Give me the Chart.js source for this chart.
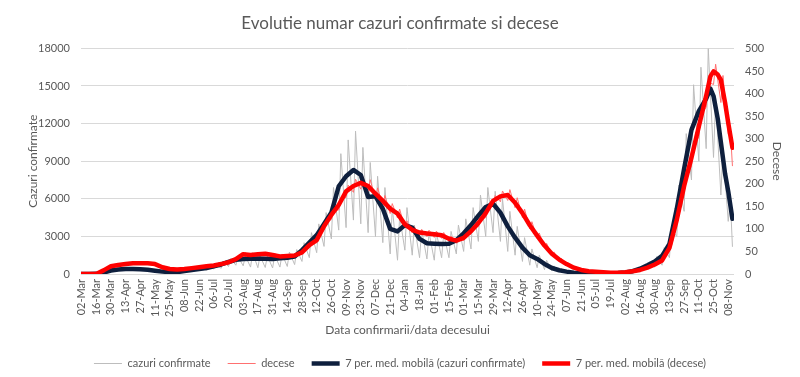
<!DOCTYPE html>
<html>
<head>
<meta charset="utf-8">
<script src="https://cdn.jsdelivr.net/npm/chart.js@4.4.1/dist/chart.umd.min.js"></script>
<style>
  html, body { margin: 0; padding: 0; background: #fff; }
  #wrap { width: 800px; height: 377px; }
</style>
</head>
<body>
<div id="wrap"><canvas id="chart"></canvas></div>
<script>
// day 0 = 02-Mar-2020, one unit = one day
const tickLabels = ['02-Mar','16-Mar','30-Mar','13-Apr','27-Apr','11-May','25-May','08-Jun','22-Jun','06-Jul','20-Jul',
  '03-Aug','17-Aug','31-Aug','14-Sep','28-Sep','12-Oct','26-Oct','09-Nov','23-Nov','07-Dec','21-Dec',
  '04-Jan','18-Jan','01-Feb','15-Feb','01-Mar','15-Mar','29-Mar','12-Apr','26-Apr','10-May','24-May',
  '07-Jun','21-Jun','05-Jul','19-Jul','02-Aug','16-Aug','30-Aug','13-Sep','27-Sep','11-Oct','25-Oct','08-Nov'];
const lastDay = 620;

// daily values, one low (start of week) and one high (mid week) per week
const rawCasesLow = [0,1,10,80,190,250,270,280,260,210,
  150,110,100,110,160,220,260,300,400,450,
  600,700,650,550,500,520,480,550,600,750,
  1000,1300,1700,2200,2800,3500,3700,4300,4000,3300,
  3000,2500,1600,1100,1900,1500,1300,1200,1100,1300,
  1300,1600,1800,2000,2600,3000,3300,2600,1800,1500,
  1000,700,500,350,250,150,90,60,40,30,
  20,20,30,50,80,130,250,400,550,700,
  1300,3000,5000,7500,9000,10000,9300,6300,4200];
const rawCasesHigh = [2,5,40,250,360,430,460,470,440,400,
  300,240,200,230,320,430,520,660,800,1000,
  1250,1400,1450,1700,1450,1450,1500,1600,1750,1950,
  2500,3300,4000,4900,6900,9600,10700,11400,10100,8900,
  7800,6900,5300,4600,5300,3900,3500,3300,3300,3200,
  3400,3900,4400,5300,6300,6900,6600,6000,5000,3800,
  2900,2000,1500,1100,650,420,260,150,100,70,
  60,60,80,120,190,320,580,950,1400,2100,
  3500,7100,11200,15100,16500,18000,14000,10000,6000];
const rawCasesEnd = 2200;

const rawDeathsLow = [0,0,0,6,15,18,20,22,22,22,
  20,13,10,9,10,12,14,15,17,20,
  24,30,40,39,41,42,39,36,37,38,
  44,59,69,98,121,142,170,181,188,181,
  165,150,134,124,102,91,85,83,81,79,
  72,68,74,88,105,125,150,160,163,147,
  125,100,79,58,42,29,20,12,8,5,
  4,3,2,2,3,5,8,12,19,27,
  53,110,180,240,305,370,420,380,310];
const rawDeathsHigh = [0,0,1,11,19,22,24,26,26,26,
  24,17,12,11,12,14,16,19,21,24,
  28,36,47,45,47,48,45,42,43,44,
  52,69,81,114,141,165,197,210,216,209,
  191,174,156,144,118,105,99,97,95,92,
  84,80,86,102,121,145,174,184,187,169,
  144,116,91,68,49,35,24,15,10,7,
  6,5,4,4,5,7,10,15,23,33,
  63,130,210,278,352,425,465,440,320];
const rawDeathsEnd = 240;

// 7-day moving averages, weekly up to day 595, then the tail days
const maTailDays = [599, 602, 606, 609, 613, 616, 620];
const maCases = [0,1,12,110,280,360,390,400,380,340,
  260,190,160,150,230,320,390,480,620,760,
  960,1130,1200,1220,1230,1220,1200,1250,1300,1400,
  1900,2500,3100,4000,4900,7000,7800,8300,7900,6150,
  6200,5200,3600,3400,3900,3700,2800,2450,2420,2400,
  2420,2700,3250,3900,4650,5350,5600,4900,3800,2900,
  2100,1500,1200,800,480,300,190,110,70,50,
  40,40,50,80,130,220,420,700,1000,1450,
  2400,5200,8400,11500,13000,14000,
  14800,14200,12400,10500,8000,6600,4400];
const maDeaths = [0,0,0,8,17,20,22,24,24,24,
  22,15,11,10,11,13,15,17,19,22,
  26,33,44,42,44,45,42,39,40,41,
  48,64,75,106,131,153,183,195,202,195,
  178,162,145,134,110,98,92,90,88,86,
  78,74,80,95,113,135,162,172,175,158,
  135,108,85,63,45,32,22,14,9,6,
  5,4,3,3,4,6,9,14,21,30,
  58,120,195,258,327,395,
  438,449,442,430,380,335,280];

const maDays = [];
for (let d = 0; d <= 595; d += 7) maDays.push(d);
maDays.push(...maTailDays);

function rawPoints(low, high, end) {
  const pts = [];
  low.forEach((v, k) => {
    pts.push({ x: k * 7, y: v });
    pts.push({ x: k * 7 + 2, y: high[k] });
  });
  pts.push({ x: lastDay, y: end });
  return pts;
}
const maPoints = (vals) => vals.map((v, i) => ({ x: maDays[i], y: v }));

const textColor = '#595959';
const gridColor = '#d9d9d9';
const font = 'Lato';

new Chart(document.getElementById('chart'), {
  type: 'line',
  data: {
    datasets: [
      { label: 'cazuri confirmate', data: rawPoints(rawCasesLow, rawCasesHigh, rawCasesEnd),
        borderColor: '#bdbdbd', borderWidth: 1, yAxisID: 'y', order: 4 },
      { label: 'decese', data: rawPoints(rawDeathsLow, rawDeathsHigh, rawDeathsEnd),
        borderColor: '#ff7070', borderWidth: 1, yAxisID: 'y1', order: 3 },
      { label: '7 per. med. mobilă (cazuri confirmate)', data: maPoints(maCases),
        borderColor: '#0e1f3d', borderWidth: 4.5, yAxisID: 'y', order: 2 },
      { label: '7 per. med. mobilă (decese)', data: maPoints(maDeaths),
        borderColor: '#ff0000', borderWidth: 4.5, yAxisID: 'y1', order: 1 },
    ],
  },
  options: {
    responsive: true,
    maintainAspectRatio: false,
    animation: false,
    elements: {
      point: { radius: 0 },
      line: { tension: 0, borderJoinStyle: 'round', borderCapStyle: 'round' },
    },
    layout: { padding: { left: 0, right: 0, top: 0, bottom: -2 } },
    scales: {
      x: {
        type: 'linear',
        min: -0.5,
        max: 621.5,
        afterBuildTicks: (s) => { s.ticks = tickLabels.map((_, i) => ({ value: i * 14 })); },
        afterFit: (s) => { s.height = 67; },
        grid: { display: false, drawTicks: false },
        border: { display: false },
        ticks: {
          autoSkip: false, minRotation: 90, maxRotation: 90, padding: 5,
          color: textColor, font: { family: font, size: 11 },
          callback: (v, i) => tickLabels[i],
        },
        title: { display: true, text: 'Data confirmarii/data decesului', color: textColor,
          font: { family: font, size: 12 }, padding: { top: 0, bottom: 4 } },
      },
      y: {
        position: 'left',
        min: 0, max: 18000,
        afterFit: (s) => { s.width = 81; },
        grid: { color: gridColor, drawTicks: false },
        border: { display: false },
        ticks: { stepSize: 3000, padding: 11, color: textColor, font: { family: font, size: 11 },
          callback: (v) => String(v) },
        title: { display: true, text: 'Cazuri confirmate', color: textColor,
          font: { family: font, size: 12 }, padding: { top: 26, bottom: 0 } },
      },
      y1: {
        position: 'right',
        min: 0, max: 500,
        afterFit: (s) => { s.width = 66; },
        grid: { drawOnChartArea: false, drawTicks: false },
        border: { display: false },
        ticks: { stepSize: 50, padding: 11, color: textColor, font: { family: font, size: 11 },
          callback: (v) => String(v) },
        title: { display: true, text: 'Decese', color: textColor,
          font: { family: font, size: 12 }, padding: { top: 16, bottom: 0 } },
      },
    },
    plugins: {
      title: {
        display: true,
        text: 'Evolutie numar cazuri confirmate si decese',
        color: textColor,
        font: { family: font, size: 17, weight: 'normal' },
        padding: { top: 13, bottom: 15 },
      },
      legend: {
        position: 'bottom',
        labels: {
          usePointStyle: true, pointStyle: 'line', pointStyleWidth: 28,
          padding: 17, color: textColor, font: { family: font, size: 11 },
          sort: (a, b) => a.datasetIndex - b.datasetIndex,
        },
      },
      tooltip: { enabled: false },
    },
  },
});
</script>
</body>
</html>
